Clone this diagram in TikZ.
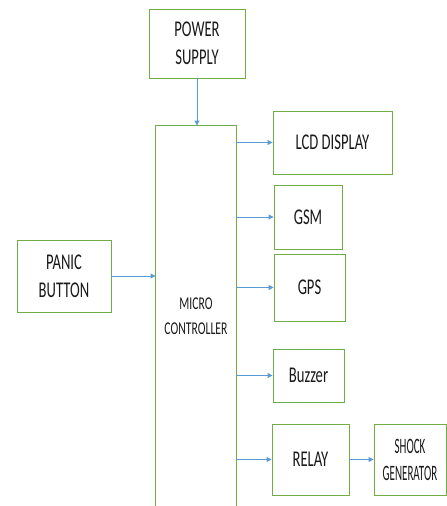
\documentclass[tikz,border=0pt]{standalone}
\usepackage{fontspec}
\newfontfamily\cfa[FakeStretch=0.65]{Carlito}
\newfontfamily\cfb[FakeStretch=0.5]{Carlito}
\usetikzlibrary{arrows.meta}
\definecolor{boxgreen}{RGB}{112,173,71}
\definecolor{arrblue}{RGB}{91,155,213}
\begin{document}
\begin{tikzpicture}[x=1pt,y=-1pt,
  blk/.style={draw=boxgreen,line width=0.9pt,align=center,inner sep=0pt,
    font=\cfa\fontsize{22.5}{28}\selectfont,text=black!90},
  arr/.style={draw=arrblue,line width=0.9pt,-{Triangle[length=5pt,width=5pt]}}]
\useasboundingbox (0,0) rectangle (447,506);
\node[blk,minimum width=96pt,minimum height=69pt] (ps) at (197,43.5) {POWER\\SUPPLY};
\node[blk,draw=none,minimum width=80pt,minimum height=380pt,
  font=\cfa\fontsize{18}{25}\selectfont] (mc) at (196,316) {MICRO\\CONTROLLER};
\draw[boxgreen,line width=0.9pt] (mc.south west) -- (mc.north west) -- (mc.north east) -- (mc.south east);
\node[blk,minimum width=94pt,minimum height=72pt] (pb) at (64,276) {PANIC\\BUTTON};
\node[blk,minimum width=119pt,minimum height=63pt] (lcd) at (332.5,142.5) {LCD DISPLAY};
\node[blk,minimum width=68pt,minimum height=64pt] (gsm) at (308,217) {GSM};
\node[blk,minimum width=71pt,minimum height=67pt] (gps) at (309.5,287.5) {GPS};
\node[blk,minimum width=71pt,minimum height=53pt] (buz) at (308.5,375.5) {Buzzer};
\node[blk,minimum width=77pt,minimum height=71pt] (rel) at (310.5,459.5) {RELAY};
\node[blk,minimum width=72pt,minimum height=71pt,
  font=\cfb\fontsize{22}{27}\selectfont] (sg) at (410,459.5) {SHOCK\\GENERATOR};
\draw[arr] (ps) -- (ps |- mc.north);
\draw[arr] (pb.east) -- (pb.east -| mc.west);
\draw[arr] (mc.east |- lcd) -- (lcd.west);
\draw[arr] (mc.east |- gsm) -- (gsm.west);
\draw[arr] (mc.east |- gps) -- (gps.west);
\draw[arr] (mc.east |- buz) -- (buz.west);
\draw[arr] (mc.east |- rel) -- (rel.west);
\draw[arr] (rel.east) -- (sg.west);
\end{tikzpicture}
\end{document}
